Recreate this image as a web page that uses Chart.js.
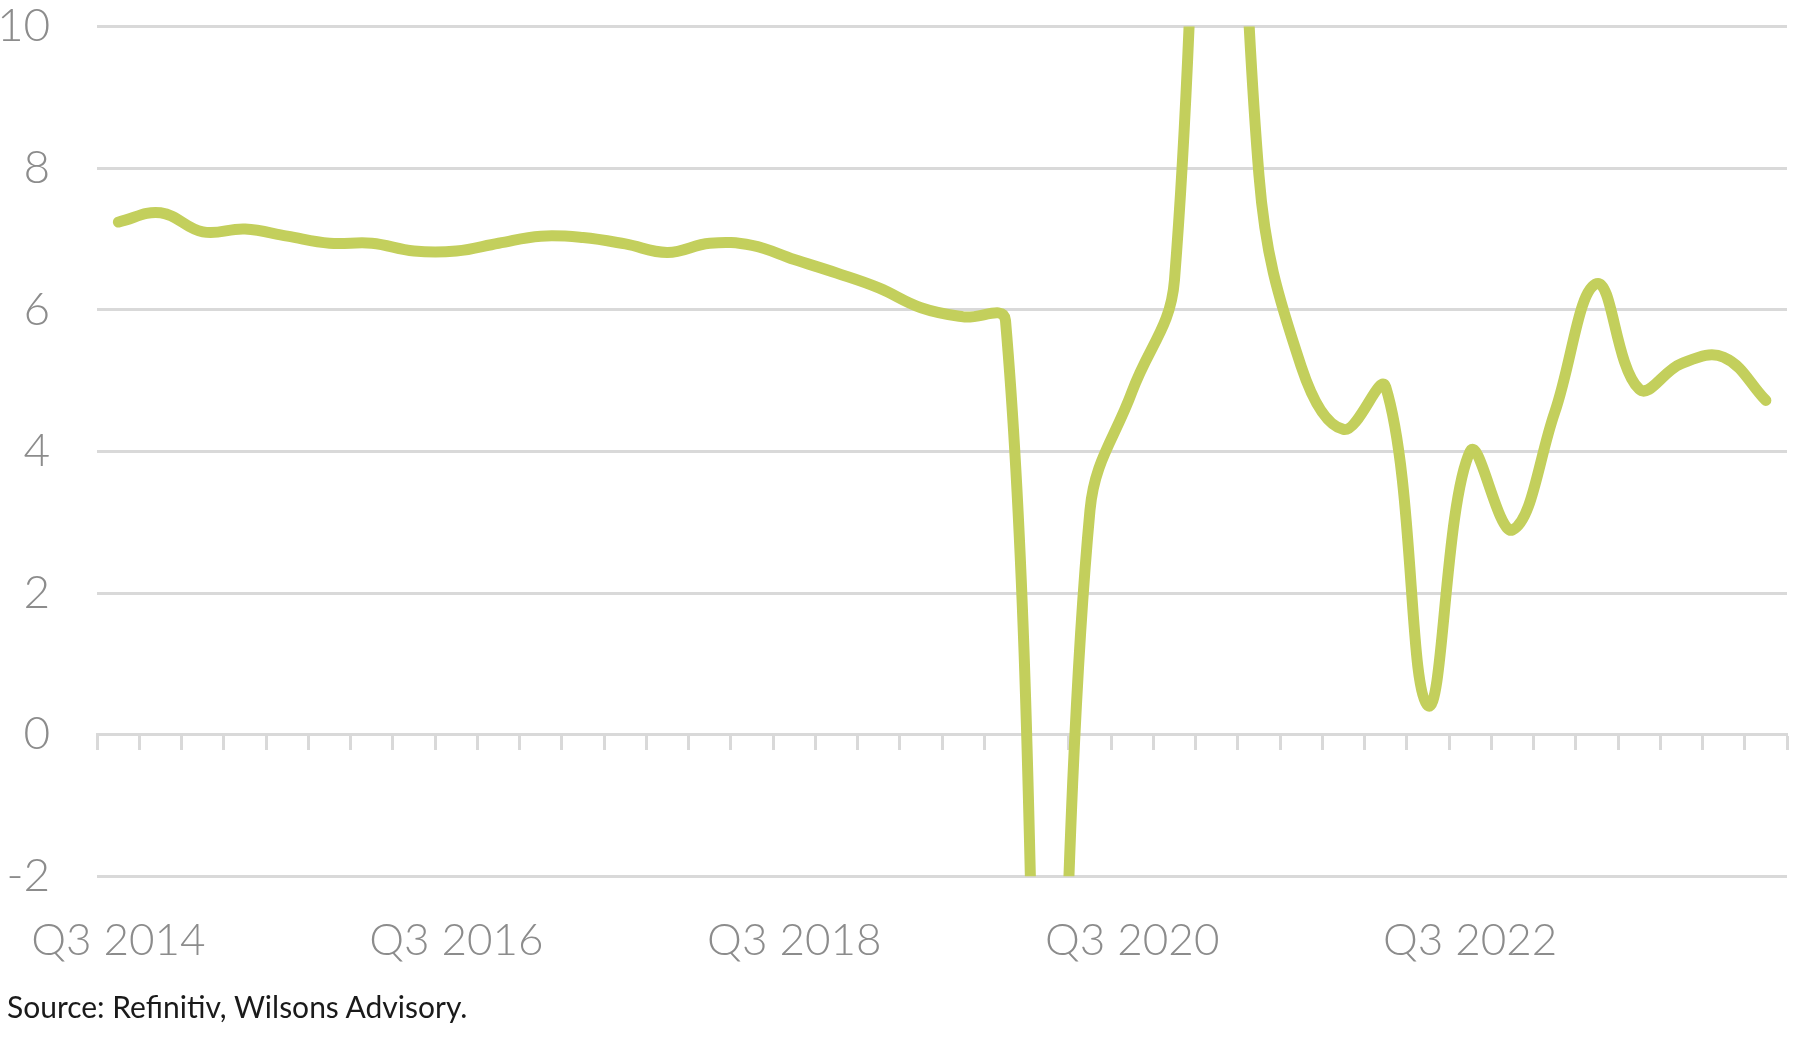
<!DOCTYPE html>
<html>
<head>
<meta charset="utf-8">
<script src="https://cdn.jsdelivr.net/npm/chart.js@4.4.1/dist/chart.umd.min.js"></script>
<style>
  html, body { margin: 0; background: #fff; overflow: hidden; }
  #wrap { position: relative; width: 1800px; height: 1063px; overflow: hidden; }
  #chart { position: absolute; left: 0; top: -48px; }
  #source { position: absolute; left: 7px; top: 988px; font: 30px Lato, sans-serif; color: #1a1a1a; }
</style>
</head>
<body>
<div id="wrap">
  <canvas id="chart" width="1800" height="1055"></canvas>
  <div id="source">Source: Refinitiv, Wilsons Advisory.</div>
</div>
<script>
// quarterly categories, Q3 2014 .. Q2 2024
const quarters = [
  'Q3 2014', 'Q4 2014', 'Q1 2015', 'Q2 2015', 'Q3 2015', 'Q4 2015', 'Q1 2016', 'Q2 2016',
  'Q3 2016', 'Q4 2016', 'Q1 2017', 'Q2 2017', 'Q3 2017', 'Q4 2017', 'Q1 2018', 'Q2 2018',
  'Q3 2018', 'Q4 2018', 'Q1 2019', 'Q2 2019', 'Q3 2019', 'Q4 2019', 'Q1 2020', 'Q2 2020',
  'Q3 2020', 'Q4 2020', 'Q1 2021', 'Q2 2021', 'Q3 2021', 'Q4 2021', 'Q1 2022', 'Q2 2022',
  'Q3 2022', 'Q4 2022', 'Q1 2023', 'Q2 2023', 'Q3 2023', 'Q4 2023', 'Q1 2024', 'Q2 2024'
];

// series values (the two spikes run past the axis limits)
const values = [
  7.24, 7.37, 7.10, 7.14, 7.04, 6.94, 6.94, 6.83, 6.83, 6.94,
  7.04, 7.02, 6.93, 6.81, 6.94, 6.91, 6.71, 6.52, 6.31, 6.03,
  5.90, 5.85, -8.0, 3.17, 4.85, 6.42, 20.0, 7.90, 5.20, 4.31,
  4.91, 0.41, 4.00, 2.89, 4.55, 6.37, 4.88, 5.24, 5.33, 4.72
];

const yTicks = [-2, 0, 2, 4, 6, 8, 10];
const labelEvery = 8;

const GRID = '#d9d9d9';
const TEXT = '#8c8c8c';
const LINE = '#c3cf5c';

new Chart(document.getElementById('chart'), {
  type: 'line',
  data: {
    labels: quarters,
    datasets: [{
      data: values,
      borderColor: LINE,
      borderWidth: 11,
      pointRadius: 0,
      tension: 0.4,
      capBezierPoints: false,
      borderCapStyle: 'round',
      borderJoinStyle: 'round',
      clip: 0,
    }],
  },
  options: {
    responsive: false,
    animation: false,
    layout: { padding: { top: 2, right: 13, bottom: 10, left: 0 } },
    plugins: { legend: { display: false }, tooltip: { enabled: false } },
    scales: {
      // tick marks sitting on the zero line
      x: {
        type: 'category',
        position: { y: 0 },
        offset: true,
        grid: {
          offset: true, drawOnChartArea: false, drawTicks: true,
          tickLength: 14, tickWidth: 3, tickColor: GRID, color: GRID,
        },
        border: { display: true, color: GRID, width: 3 },
        ticks: { display: false },
      },
      // labels along the bottom
      x2: {
        type: 'category',
        labels: quarters,
        position: 'bottom',
        offset: true,
        grid: { display: false },
        border: { display: false },
        ticks: {
          autoSkip: false, maxRotation: 0, padding: 30,
          color: TEXT, font: { family: 'Lato, sans-serif', size: 44, weight: '300' },
          callback: (v, i) => (i % labelEvery === 0 ? quarters[i] : ''),
        },
      },
      y: {
        min: -2,
        max: 10,
        afterBuildTicks: s => { s.ticks = yTicks.map(v => ({ value: v })); },
        afterFit: s => { s.width = 96; },
        grid: { color: GRID, lineWidth: 3, drawTicks: false },
        border: { display: false },
        ticks: { padding: 47, color: TEXT, font: { family: 'Lato, sans-serif', size: 46, weight: '300' } },
      },
    },
  },
});
</script>
</body>
</html>
